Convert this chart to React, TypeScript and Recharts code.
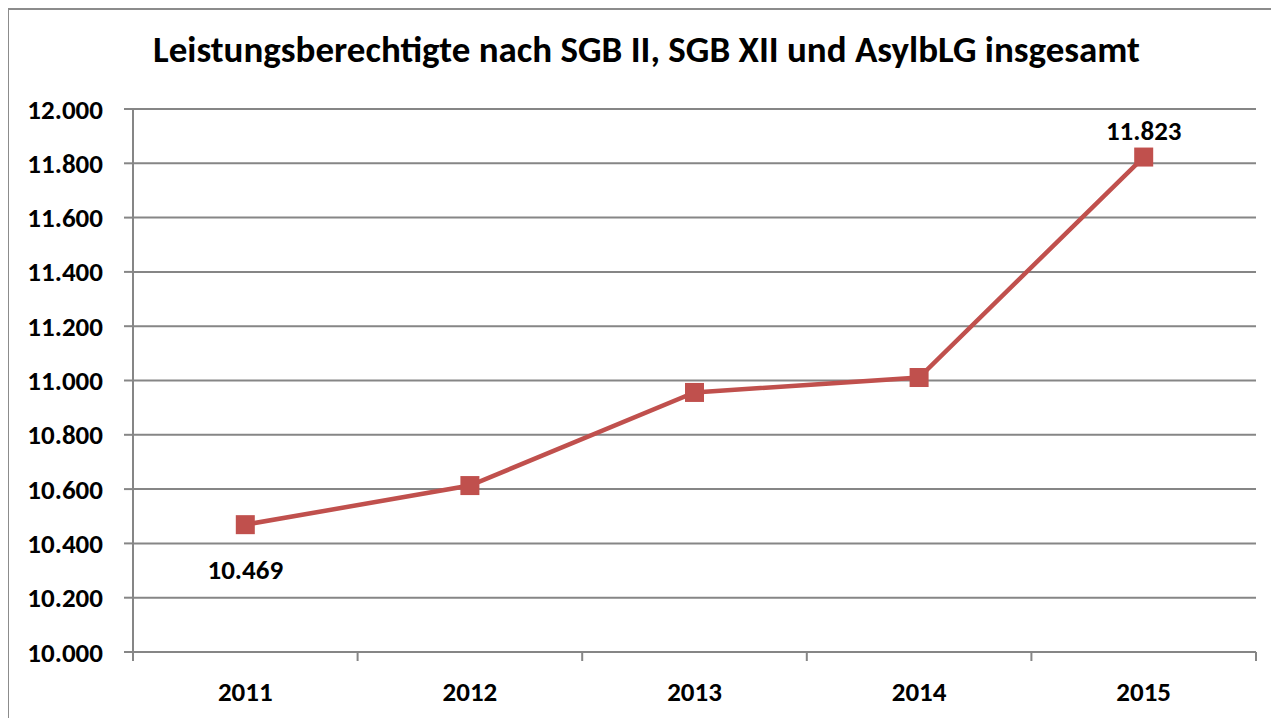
import React from "react"
import { LineChart, Line, XAxis, YAxis, CartesianGrid, LabelList } from "recharts"

const years = ["2011", "2012", "2013", "2014", "2015"]
const values = [10469, 10613, 10956, 11011, 11823]
const yTicks = [10000, 10200, 10400, 10600, 10800, 11000, 11200, 11400, 11600, 11800, 12000]
const labelledYears = ["2011", "2015"]

const data = years.map((year, i) => ({ year, value: values[i] }))

const FONT = "Carlito, Lato, 'Open Sans', sans-serif"
const RED = "#C0504D"
const GREY = "#868686"

const fmt = (v: number) => {
  const s = String(Math.round(v))
  return s.slice(0, s.length - 3) + "." + s.slice(-3)
}

const SquareDot = (props: any) => {
  const { cx, cy } = props
  if (cx == null || cy == null) return null
  return <rect x={cx - 9.5} y={cy - 9.5} width={19} height={19} fill={RED} />
}

const XTick = (props: any) => {
  const { x, y, payload, index } = props
  const half = 224.6 / 2
  return (
    <g>
      <line x1={x - half} x2={x - half} y1={y - 8} y2={y + 1} stroke={GREY} strokeWidth={2} />
      {index === years.length - 1 && (
        <line x1={x + half} x2={x + half} y1={y - 8} y2={y + 1} stroke={GREY} strokeWidth={2} />
      )}
      <text x={x} y={y + 41} textAnchor="middle" fontFamily={FONT} fontWeight="bold" fontSize={27} fill="#000">
        {payload.value}
      </text>
    </g>
  )
}

const PointLabel = (props: any) => {
  const { x, y, value, index } = props
  if (!labelledYears.includes(years[index])) return null
  const below = index === 0
  return (
    <text
      x={x}
      y={below ? y + 54 : y - 17}
      textAnchor="middle"
      fontFamily={FONT}
      fontWeight="bold"
      fontSize={27}
      fill="#000"
    >
      {fmt(value)}
    </text>
  )
}

export default function App() {
  return (
    <div
      style={{
        width: 1271,
        height: 710,
        borderLeft: "2px solid #8c8c8c",
        borderTop: "2px solid #8c8c8c",
        background: "#fff",
        position: "relative",
        boxSizing: "border-box",
        marginLeft: -1,
      }}
    >
      <div
        style={{
          position: "absolute",
          left: 0,
          right: 0,
          top: 18,
          textAlign: "center",
          fontFamily: FONT,
          fontWeight: "bold",
          fontSize: 37,
          color: "#000",
          lineHeight: "44px",
          paddingLeft: 6,
        }}
      >
        Leistungsberechtigte nach SGB II, SGB XII und AsylbLG insgesamt
      </div>
      <LineChart
        width={1269}
        height={708}
        data={data}
        margin={{ top: 99, right: 22, bottom: 0, left: 0 }}
      >
        <CartesianGrid horizontal vertical={false} stroke={GREY} strokeWidth={2} />
        <XAxis
          dataKey="year"
          scale="band"
          stroke={GREY}
          strokeWidth={2}
          tickLine={false}
          height={66}
          interval={0}
          tick={<XTick />}
        />
        <YAxis
          domain={[10000, 12000]}
          ticks={yTicks}
          allowDataOverflow
          width={124}
          stroke={GREY}
          strokeWidth={2}
          tickSize={9}
          tickMargin={21}
          tickFormatter={fmt}
          tick={{ fontFamily: FONT, fontWeight: "bold", fontSize: 27, fill: "#000" }}
        />
        <Line
          type="linear"
          dataKey="value"
          stroke={RED}
          strokeWidth={4.5}
          dot={<SquareDot />}
          activeDot={false}
          isAnimationActive={false}
        >
          <LabelList dataKey="value" content={<PointLabel />} />
        </Line>
      </LineChart>
    </div>
  )
}
